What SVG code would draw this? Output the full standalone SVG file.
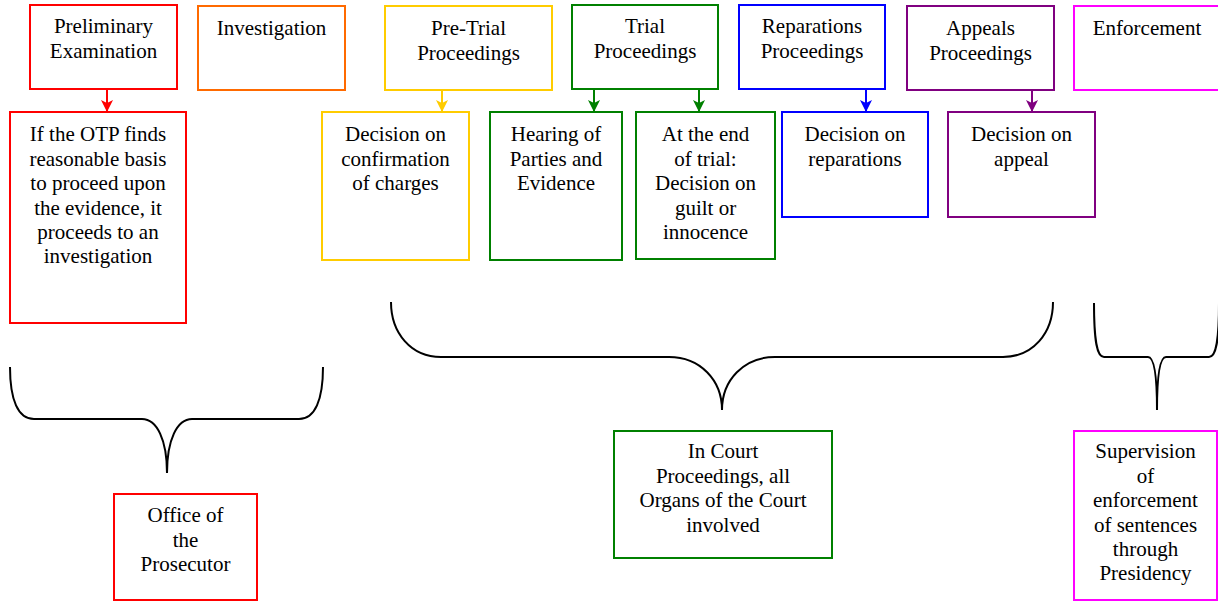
<svg xmlns="http://www.w3.org/2000/svg" width="1218" height="602" viewBox="0 0 1218 602">
<style>
.t text{font-size:21px;fill:#000;text-anchor:middle}
rect{fill:#fff;stroke-width:2}
.red{stroke:#FF0000}.org{stroke:#FF6A00}.yel{stroke:#FFCC00}.grn{stroke:#008000}.blu{stroke:#0000FF}.pur{stroke:#800080}.mag{stroke:#FF00FF}
.conn line{stroke-width:2}
.brace{fill:none;stroke:#000;stroke-width:2}
</style>
<defs>
<marker id="aR" viewBox="0 0 12 12" refX="12" refY="6" markerWidth="12" markerHeight="12" markerUnits="userSpaceOnUse" orient="auto"><path d="M0,0 L12,6 L0,12 L3,6 Z" fill="#FF0000"/></marker>
<marker id="aY" viewBox="0 0 12 12" refX="12" refY="6" markerWidth="12" markerHeight="12" markerUnits="userSpaceOnUse" orient="auto"><path d="M0,0 L12,6 L0,12 L3,6 Z" fill="#FFCC00"/></marker>
<marker id="aG" viewBox="0 0 12 12" refX="12" refY="6" markerWidth="12" markerHeight="12" markerUnits="userSpaceOnUse" orient="auto"><path d="M0,0 L12,6 L0,12 L3,6 Z" fill="#008000"/></marker>
<marker id="aB" viewBox="0 0 12 12" refX="12" refY="6" markerWidth="12" markerHeight="12" markerUnits="userSpaceOnUse" orient="auto"><path d="M0,0 L12,6 L0,12 L3,6 Z" fill="#0000FF"/></marker>
<marker id="aP" viewBox="0 0 12 12" refX="12" refY="6" markerWidth="12" markerHeight="12" markerUnits="userSpaceOnUse" orient="auto"><path d="M0,0 L12,6 L0,12 L3,6 Z" fill="#800080"/></marker>
</defs>
<rect x="0" y="0" width="1218" height="602" style="fill:#fff;stroke:none"/>

<g id="connectors" class="conn">
<line x1="107" y1="89" x2="107" y2="112" stroke="#FF0000" marker-end="url(#aR)"/>
<line x1="442" y1="90" x2="442" y2="112" stroke="#FFCC00" marker-end="url(#aY)"/>
<line x1="594" y1="89" x2="594" y2="112" stroke="#008000" marker-end="url(#aG)"/>
<line x1="699" y1="89" x2="699" y2="112" stroke="#008000" marker-end="url(#aG)"/>
<line x1="866" y1="89" x2="866" y2="112" stroke="#0000FF" marker-end="url(#aB)"/>
<line x1="1032" y1="90" x2="1032" y2="112" stroke="#800080" marker-end="url(#aP)"/>
</g>

<g class="t" font-family="Liberation Serif, Times New Roman, serif">
<g id="n-preliminary"><rect class="red" x="30" y="5" width="147" height="84"/><text x="103.5" y="33">Preliminary</text><text x="103.5" y="58">Examination</text></g>
<g id="n-investigation"><rect class="org" x="198" y="6" width="147" height="84"/><text x="271.5" y="35">Investigation</text></g>
<g id="n-pretrial"><rect class="yel" x="385" y="6" width="167" height="84"/><text x="468.5" y="35">Pre-Trial</text><text x="468.5" y="60">Proceedings</text></g>
<g id="n-trial"><rect class="grn" x="572" y="5" width="146" height="84"/><text x="645" y="33">Trial</text><text x="645" y="58">Proceedings</text></g>
<g id="n-reparations"><rect class="blu" x="739" y="5" width="146" height="84"/><text x="812" y="33">Reparations</text><text x="812" y="58">Proceedings</text></g>
<g id="n-appeals"><rect class="pur" x="907" y="6" width="147" height="84"/><text x="980.5" y="35">Appeals</text><text x="980.5" y="60">Proceedings</text></g>
<g id="n-enforcement"><rect class="mag" x="1074" y="6" width="148" height="84"/><text x="1147" y="35">Enforcement</text></g>

<g id="n-otp-finds"><rect class="red" x="10" y="112" width="176" height="211"/>
<text x="98" y="141">If the OTP finds</text><text x="98" y="166">reasonable basis</text><text x="98" y="190">to proceed upon</text><text x="98" y="215">the evidence, it</text><text x="98" y="239">proceeds to an</text><text x="98" y="263">investigation</text></g>
<g id="n-confirmation"><rect class="yel" x="322" y="112" width="147" height="148"/>
<text x="395.5" y="141">Decision on</text><text x="395.5" y="166">confirmation</text><text x="395.5" y="190">of charges</text></g>
<g id="n-hearing"><rect class="grn" x="490" y="112" width="132" height="148"/>
<text x="556" y="141">Hearing of</text><text x="556" y="166">Parties and</text><text x="556" y="190">Evidence</text></g>
<g id="n-endtrial"><rect class="grn" x="636" y="112" width="139" height="147"/>
<text x="705.5" y="141">At the end</text><text x="705.5" y="166">of trial:</text><text x="705.5" y="190">Decision on</text><text x="705.5" y="215">guilt or</text><text x="705.5" y="239">innocence</text></g>
<g id="n-dec-reparations"><rect class="blu" x="782" y="112" width="146" height="105"/>
<text x="855" y="141">Decision on</text><text x="855" y="166">reparations</text></g>
<g id="n-dec-appeal"><rect class="pur" x="948" y="112" width="147" height="105"/>
<text x="1021.5" y="141">Decision on</text><text x="1021.5" y="166">appeal</text></g>

<g id="n-prosecutor"><rect class="red" x="114" y="494" width="143" height="106"/>
<text x="185.5" y="522">Office of</text><text x="185.5" y="547">the</text><text x="185.5" y="571">Prosecutor</text></g>
<g id="n-court"><rect class="grn" x="614" y="431" width="218" height="127"/>
<text x="723" y="458">In Court</text><text x="723" y="483">Proceedings, all</text><text x="723" y="507">Organs of the Court</text><text x="723" y="532">involved</text></g>
<g id="n-supervision"><rect class="mag" x="1074" y="431" width="143" height="169"/>
<text x="1145.5" y="458">Supervision</text><text x="1145.5" y="483">of</text><text x="1145.5" y="507">enforcement</text><text x="1145.5" y="532">of sentences</text><text x="1145.5" y="556">through</text><text x="1145.5" y="580">Presidency</text></g>
</g>

<g id="braces">
<path class="brace" d="M10,367 C10,400 18,419 34,419 L142,419 C157,419 167,440 167,473 C167,440 177,419 192,419 L299,419 C315,419 323,400 323,367"/>
<path class="brace" d="M391,302 C391,333 411,357 441,357 L669,357 C700,357 722,380 722,410 C722,380 744,357 775,357 L1003,357 C1033,357 1053,333 1053,302"/>
<path class="brace" d="M1094,303 C1094,342 1097,357 1104,357 L1148,357 C1154,357 1157,375 1157,410 C1157,375 1160,357 1166,357 L1209,357 C1216,357 1219,342 1219,303"/>
</g>
</svg>
